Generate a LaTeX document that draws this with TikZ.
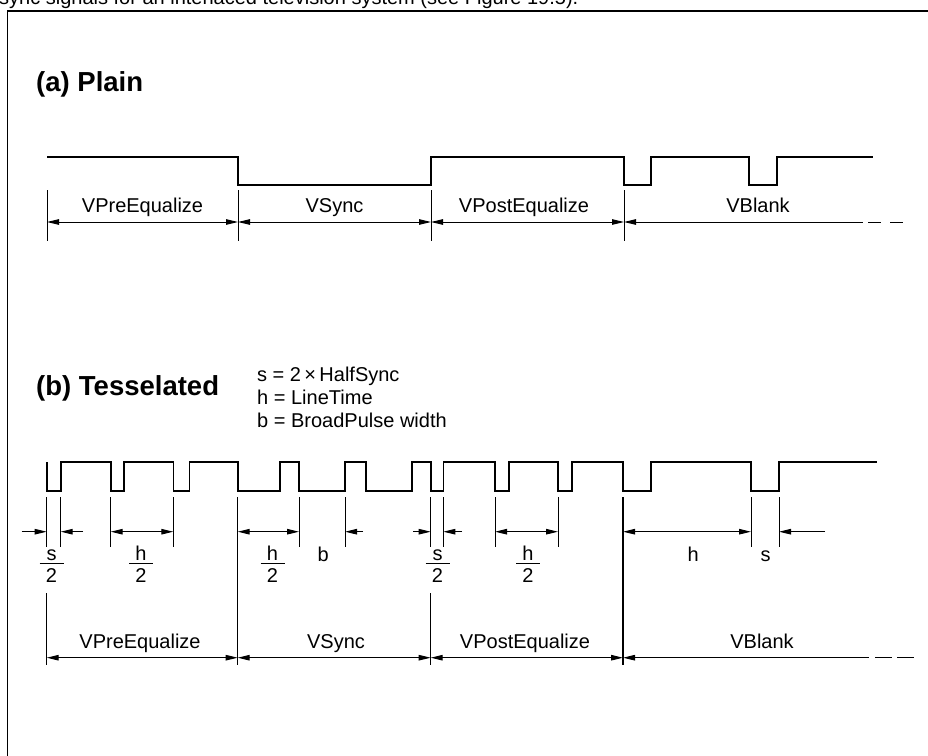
\documentclass[tikz,border=0pt]{standalone}
\usepackage{fontspec}
\setmainfont{Liberation Sans}
\usetikzlibrary{arrows.meta}
\newcommand\halffrac[3]{%
  \node[lbl] (#3n) at (#1,560) {#2};
  \draw[line width=0.9pt] ({#1-12},563) -- ({#1+12},563);
  \node[lbl] (#3d) at (#1,582) {2};
}
\begin{document}
\begin{tikzpicture}[x=1pt,y=-1pt,
  wave/.style={line width=1.6pt, line join=miter},
  dim/.style={line width=1pt},
  tk/.style={line width=0.9pt},
  tip/.tip={Triangle[length=12pt,width=5.5pt]},
  both/.style={dim, tip-tip},
  tohead/.style={dim, -tip},
  fromhead/.style={dim, tip-},
  dashpart/.style={dim, dash pattern=on 13pt off 9pt},
  lbl/.style={font=\fontsize{20}{24}\selectfont, inner sep=0pt, anchor=base},
  ttl/.style={font=\fontsize{27.5}{32}\selectfont\bfseries, inner sep=0pt, anchor=base west},
]
\useasboundingbox (0,0) rectangle (928,755);
\clip (0,0) rectangle (928,755);
\fill[white] (0,0) rectangle (928,755);

% cut-off caption and frame
\node[lbl, anchor=base west] (cap) at (-1,4.5) {sync signals for an interlaced television system (see Figure 19.5).};
\draw[line width=1.6pt] (928,10.7) -- (7.3,10.7) -- (7.3,760);

% ---------------- (a) Plain ----------------
\node[ttl] (ta) at (36,91) {(a) Plain};

\draw[wave] (47,156.7) -- (238,156.7) -- (238,185) -- (431,185) -- (431,156.7)
  -- (624,156.7) -- (624,185) -- (651,185) -- (651,156.7) -- (749,156.7)
  -- (749,185) -- (777,185) -- (777,156.7) -- (873,156.7);

\foreach \x/\n in {47/pa0, 238/pa1, 431/pa2, 624/pa3}{
  \draw[tk] (\x,190) -- (\x,241);
  \coordinate (\n) at (\x,222);
}
\coordinate (pa4) at (863,222);
\coordinate (pa5) at (868,222);
\coordinate (pa6) at (908,222);
\draw[both] (pa0) -- (pa1);
\draw[both] (pa1) -- (pa2);
\draw[both] (pa2) -- (pa3);
\draw[fromhead] (pa3) -- (pa4);
\draw[dashpart] (pa5) -- (pa6);

\node[lbl] (a1) at (142.5,212) {VPreEqualize};
\node[lbl] (a2) at (334.5,212) {VSync};
\node[lbl] (a3) at (524,212) {VPostEqualize};
\node[lbl] (a4) at (758,212) {VBlank};

% ---------------- (b) Tesselated ----------------
\node[ttl] (tb) at (36,395) {(b) Tesselated};
\node[lbl, anchor=base west] (ls) at (257,381) {s = 2\,×\,HalfSync};
\node[lbl, anchor=base west] (lh) at (257,404) {h = LineTime};
\node[lbl, anchor=base west] (lb) at (257,427) {b = BroadPulse width};

\def\hi{462}\def\lo{491}
\draw[wave] (46.7,\hi) -- (46.7,\lo) -- (60.7,\lo) -- (60.7,\hi)
  -- (110.7,\hi) -- (110.7,\lo) -- (124,\lo) -- (124,\hi)
  -- (173.3,\hi) -- (173.3,\lo) -- (189.3,\lo) -- (189.3,\hi)
  -- (237.7,\hi) -- (237.7,\lo) -- (280,\lo) -- (280,\hi)
  -- (299,\hi) -- (299,\lo) -- (345,\lo) -- (345,\hi)
  -- (365.7,\hi) -- (365.7,\lo) -- (411.7,\lo) -- (411.7,\hi)
  -- (430.7,\hi) -- (430.7,\lo) -- (443.3,\lo) -- (443.3,\hi)
  -- (495,\hi) -- (495,\lo) -- (509,\lo) -- (509,\hi)
  -- (558,\hi) -- (558,\lo) -- (572,\lo) -- (572,\hi)
  -- (623,\hi) -- (623,\lo) -- (651,\lo) -- (651,\hi)
  -- (751,\hi) -- (751,\lo) -- (779,\lo) -- (779,\hi) -- (877,\hi);

% short ticks
\foreach \x in {46.7, 60.7, 110.7, 173.3, 299, 345, 430.7, 443.3, 495, 558, 751, 779}{
  \draw[tk] (\x,497) -- (\x,547);
}
% long ticks
\draw[tk] (237.7,497) -- (237.7,665);
\draw[line width=1.2pt] (623,497) -- (623,665);
\draw[tk] (46.7,593) -- (46.7,665);
\draw[tk] (430.7,593) -- (430.7,665);

% upper dimension row
\def\dy{531.7}
\coordinate (s1l) at (21.7,\dy);  \coordinate (s1a) at (46.7,\dy);
\coordinate (s1b) at (60.7,\dy);  \coordinate (s1r) at (83,\dy);
\coordinate (h1a) at (110.7,\dy); \coordinate (h1b) at (173.3,\dy);
\coordinate (h2a) at (237.7,\dy); \coordinate (h2b) at (299,\dy);
\coordinate (bb) at (345,\dy);    \coordinate (br) at (363,\dy);
\coordinate (s2l) at (413,\dy);   \coordinate (s2a) at (430.7,\dy);
\coordinate (s2b) at (443.3,\dy); \coordinate (s2r) at (462,\dy);
\coordinate (h3a) at (495,\dy);   \coordinate (h3b) at (558,\dy);
\coordinate (h4a) at (623,\dy);   \coordinate (h4b) at (751,\dy);
\coordinate (ss) at (779,\dy);    \coordinate (sr) at (825,\dy);

\draw[tohead] (s1l) -- (s1a);
\draw[tohead] (s1r) -- (s1b);
\draw[both] (h1a) -- (h1b);
\draw[both] (h2a) -- (h2b);
\draw[tohead] (br) -- (bb);
\draw[tohead] (s2l) -- (s2a);
\draw[tohead] (s2r) -- (s2b);
\draw[both] (h3a) -- (h3b);
\draw[both] (h4a) -- (h4b);
\draw[tohead] (sr) -- (ss);

\halffrac{51.5}{s}{f1}
\halffrac{141}{h}{f2}
\halffrac{272.5}{h}{f3}
\node[lbl] (lbB) at (323.3,561) {b};
\halffrac{437.5}{s}{f4}
\halffrac{528}{h}{f5}
\node[lbl] (lbH) at (693.3,561) {h};
\node[lbl] (lbS) at (765.7,561) {s};

% lower dimension row
\def\ey{657.7}
\coordinate (qa0) at (46.7,\ey);  \coordinate (qa1) at (237.7,\ey);
\coordinate (qa2) at (430.7,\ey); \coordinate (qa3) at (623,\ey);
\coordinate (qa4) at (869,\ey);   \coordinate (qa5) at (875,\ey);
\coordinate (qa6) at (914,\ey);
\draw[both] (qa0) -- (qa1);
\draw[both] (qa1) -- (qa2);
\draw[both] (qa2) -- (qa3);
\draw[fromhead] (qa3) -- (qa4);
\draw[dim, dash pattern=on 17pt off 5pt] (qa5) -- (qa6);

\node[lbl] (b1) at (140,648) {VPreEqualize};
\node[lbl] (b2) at (336,648) {VSync};
\node[lbl] (b3) at (525,648) {VPostEqualize};
\node[lbl] (b4) at (762,648) {VBlank};
\end{tikzpicture}
\end{document}
